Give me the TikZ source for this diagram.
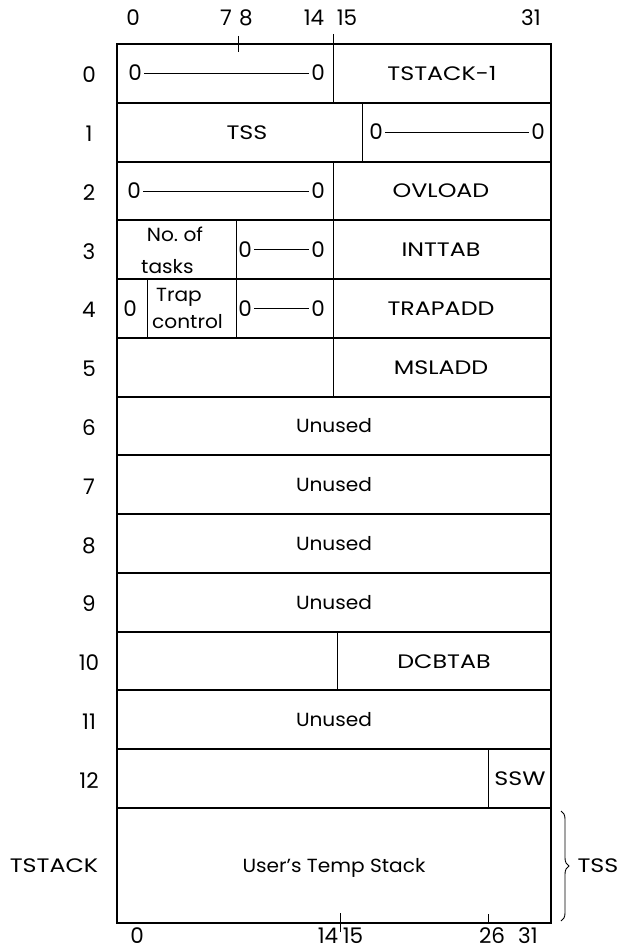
\documentclass[tikz,border=0pt]{standalone}
\usepackage{fontspec}
\setmainfont[FakeStretch=1.06]{Poppins}
\newfontfamily\capsfont[FakeStretch=1.22]{Poppins}
\newfontfamily\digitfont{Poppins}
\usetikzlibrary{decorations.pathreplacing}
\begin{document}
\begin{tikzpicture}[x=1pt,y=-1pt,
  frame/.style={line width=2.2pt},
  rowline/.style={line width=2pt},
  divider/.style={line width=0.9pt},
  dashline/.style={line width=0.8pt},
  lbl/.style={font=\fontsize{19}{21}\selectfont, inner sep=0pt, text height=13.5pt, text depth=0pt},
  caps/.style={font=\capsfont\fontsize{19.5}{21}\selectfont, inner sep=0pt, text height=13.8pt, text depth=0pt},
  num/.style={font=\digitfont\fontsize{21.5}{23}\selectfont, inner sep=0pt, text height=15pt, text depth=0pt},
  zero/.style={num, inner sep=2.5pt}]
\useasboundingbox (0,0) rectangle (637,952);
\def\L{117}\def\R{551}\def\T{44}\def\B{923}
% frame
\draw[frame] (\L,\T) rectangle (\R,\B);
\foreach \i in {1,...,13}{
  \pgfmathsetmacro{\yy}{44+58.77*\i}
  \draw[rowline] (\L,\yy) -- (\R,\yy);
}
% dividers
\draw[divider] (333,34) -- (333,102.8);
\draw[divider] (362,102.8) -- (362,161.5);
\draw[divider] (333,161.5) -- (333,396.6);
\draw[divider] (236,220.3) -- (236,337.9);
\draw[divider] (147,279.1) -- (147,337.9);
\draw[divider] (337,631.7) -- (337,690.5);
\draw[divider] (488,749.2) -- (488,808);
% ticks
\draw[divider] (238,36) -- (238,52);
\draw[divider] (340,913) -- (340,932);
\draw[divider] (488,914) -- (488,923);
% top scale
\node[num] (t0) at (133,18) {0};
\node[num] (t7) at (226,18) {7};
\node[num] (t8) at (246,18) {8};
\node[num] (t14) at (314,18) {14};
\node[num] (t15) at (347,18) {15};
\node[num] (t31) at (531,18) {31};
% bottom scale
\node[num] (b0) at (137,936) {0};
\node[num] (b14) at (328,936) {14};
\node[num] (b15) at (353,936) {15};
\node[num] (b26) at (492,936) {26};
\node[num] (b31) at (528,936) {31};
% row numbers
\foreach \i in {0,...,12}{
  \pgfmathsetmacro{\yy}{44+58.77*(\i+0.5)+2}
  \node[num] (r\i) at (89,\yy) {\i};
}
\node[caps] (rts) at (54,866) {TSTACK};
% row 0
\node[zero] (z0a) at (135,73.4) {0};
\node[zero] (z0b) at (318,73.4) {0};
\draw[dashline] (z0a) -- (z0b);
\node[caps] (tstackm1) at (442,73.4) {TSTACK-1};
% row 1
\node[caps] (tss1) at (247,132.2) {TSS};
\node[zero] (z1a) at (376,132.2) {0};
\node[zero] (z1b) at (538,132.2) {0};
\draw[dashline] (z1a) -- (z1b);
% row 2
\node[zero] (z2a) at (134,190.9) {0};
\node[zero] (z2b) at (318,190.9) {0};
\draw[dashline] (z2a) -- (z2b);
\node[caps] (ovload) at (441,190.9) {OVLOAD};
% row 3
\node[lbl] (nof) at (175,235) {No.\ of};
\node[lbl, anchor=west] (tasks) at (141,267) {tasks};
\node[zero] (z3a) at (245,249.7) {0};
\node[zero] (z3b) at (318,249.7) {0};
\draw[dashline] (z3a) -- (z3b);
\node[caps] (inttab) at (441,249.7) {INTTAB};
% row 4
\node[num] (z4s) at (130,308.5) {0};
\node[lbl, anchor=west] (trap) at (156,295) {Trap};
\node[lbl, anchor=west] (control) at (152,322) {control};
\node[zero] (z4a) at (245,308.5) {0};
\node[zero] (z4b) at (318,308.5) {0};
\draw[dashline] (z4a) -- (z4b);
\node[caps] (trapadd) at (441,308.5) {TRAPADD};
% row 5
\node[caps] (msladd) at (441,368) {MSLADD};
% rows 6-9
\node[lbl] (u6) at (334,426.0) {Unused};
\node[lbl] (u7) at (334,484.8) {Unused};
\node[lbl] (u8) at (334,543.6) {Unused};
\node[lbl] (u9) at (334,602.3) {Unused};
% row 10
\node[caps] (dcbtab) at (444,661.1) {DCBTAB};
% row 11
\node[lbl] (u11) at (334,719.9) {Unused};
% row 12
\node[caps] (ssw) at (520,778.6) {SSW};
% stack
\node[lbl] (stack) at (334,866) {User's Temp Stack};
% brace
\coordinate (bt) at (561,811);
\coordinate (bb) at (561,921);
\draw[divider, decorate, decoration={brace, amplitude=8pt}] (bt) -- (bb);
\node[caps] (tss2) at (598,866) {TSS};
\end{tikzpicture}
\end{document}
